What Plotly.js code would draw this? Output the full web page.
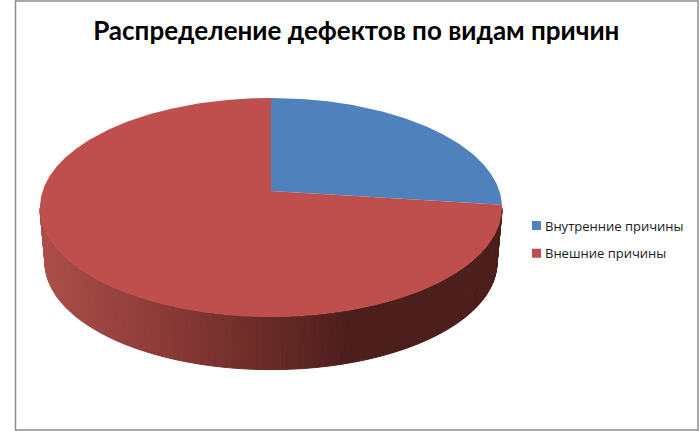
<!DOCTYPE html>
<html>
<head>
<meta charset="utf-8">
<script src="https://cdn.plot.ly/plotly-3.0.1.min.js"></script>
<style>html,body{margin:0;padding:0;background:#fff}#chart{width:700px;height:431px}</style>
</head>
<body>
<div id="chart"></div>
<script>
// Chart data
var categories = ["Внутренние причины", "Внешние причины"];
var shares = [27, 73];
var sliceColors = ["#4F81BD", "#BE4F4C"];
var chartTitle = "Распределение дефектов по видам причин";

// Projection of the 3D pie onto the picture axes
var cx = 271, cyApex = 191, ampX = 228.4, ampY = -78.23, persp = 0.1507;
var cyOutline = 208, wallDrop = 55, wallScale = 0.978;
function rim(deg) {
  var t = deg * Math.PI / 180, u = Math.sin(t), v = Math.cos(t), w = 1 + persp * v;
  return [cx + ampX * u / w, (ampY * v + cyApex) / w];
}
function rimLow(deg) {
  var p = rim(deg);
  return [cx + (p[0] - cx) * wallScale, cyOutline + wallDrop + (p[1] - cyOutline) * wallScale];
}
// Wall shade stops: position across the picture -> rgb
var shadeStops = [[40,[172,78,74]],[175,[135,56,53]],[270,[104,42,38]],[350,[76,30,28]],[700,[76,30,28]]];
function shade(x) {
  for (var i = 1; i < shadeStops.length; i++) {
    if (x <= shadeStops[i][0]) {
      var a = shadeStops[i-1], b = shadeStops[i], f = Math.max(0,(x-a[0])/(b[0]-a[0]));
      return "rgb(" + [0,1,2].map(function(k){return Math.round(a[1][k]+(b[1][k]-a[1][k])*f);}).join(",") + ")";
    }
  }
}
var traces = [];
// Side wall, from the right silhouette round the front to the left silhouette
for (var d = 99; d < 261; d += 1) {
  var p1 = rim(d), p2 = rim(d+1), q1 = rimLow(d), q2 = rimLow(d+1);
  var col = shade((p1[0]+p2[0])/2);
  traces.push({type:"scatter", mode:"lines", x:[p1[0],p2[0],q2[0],q1[0],p1[0]], y:[p1[1],p2[1],q2[1],q1[1],p1[1]],
    fill:"toself", fillcolor:col, line:{color:col,width:1}, hoverinfo:"skip", showlegend:false});
}
// Top faces, drawn from the shares
var total = shares.reduce(function(a,b){return a+b;},0), start = 0;
shares.forEach(function(s,i){
  var end = start + s/total*360, xs=[cx], ys=[cyApex];
  for (var a = start; a < end; a += 0.5) { var p = rim(a); xs.push(p[0]); ys.push(p[1]); }
  var pe = rim(end); xs.push(pe[0],cx); ys.push(pe[1],cyApex);
  traces.push({type:"scatter", mode:"lines", x:xs, y:ys, fill:"toself", fillcolor:sliceColors[i],
    line:{width:0,color:sliceColors[i]}, hoverinfo:"skip", showlegend:false});
  start = end;
});
// Legend entries
categories.forEach(function(c,i){
  traces.push({type:"scatter", mode:"markers", x:[null], y:[null], name:c, legendgroup:"g"+i,
    marker:{symbol:"square", size:9, color:sliceColors[i]}, showlegend:true});
});
var layout = {
  width:700, height:431, margin:{l:0,r:0,t:0,b:0}, paper_bgcolor:"#fff", plot_bgcolor:"#fff",
  title:{text:"<b>"+chartTitle+"</b>", x:0.509, xanchor:"center", y:0.928, yanchor:"middle",
    font:{family:"Lato", size:26, color:"#000"}},
  xaxis:{range:[0,700], visible:false, fixedrange:true},
  yaxis:{range:[431,0], visible:false, fixedrange:true},
  showlegend:true,
  legend:{x:505/700, y:1-210.5/431, xanchor:"left", yanchor:"top", tracegroupgap:8, itemwidth:30,
    font:{family:"Open Sans", size:13, color:"#1a1a1a"}, bgcolor:"rgba(0,0,0,0)"},
  shapes:[{type:"rect", xref:"x", yref:"y", x0:15.5, x1:698, y0:1, y1:430, line:{color:"#8c8c8c",width:1.5}, layer:"below"}]
};
Plotly.newPlot("chart", traces, layout, {displayModeBar:false, staticPlot:true}).then(function(){
  document.querySelectorAll(".legend .legendpoints").forEach(function(g){ g.setAttribute("transform","translate(11.5,0)"); });
});
</script>
</body>
</html>
